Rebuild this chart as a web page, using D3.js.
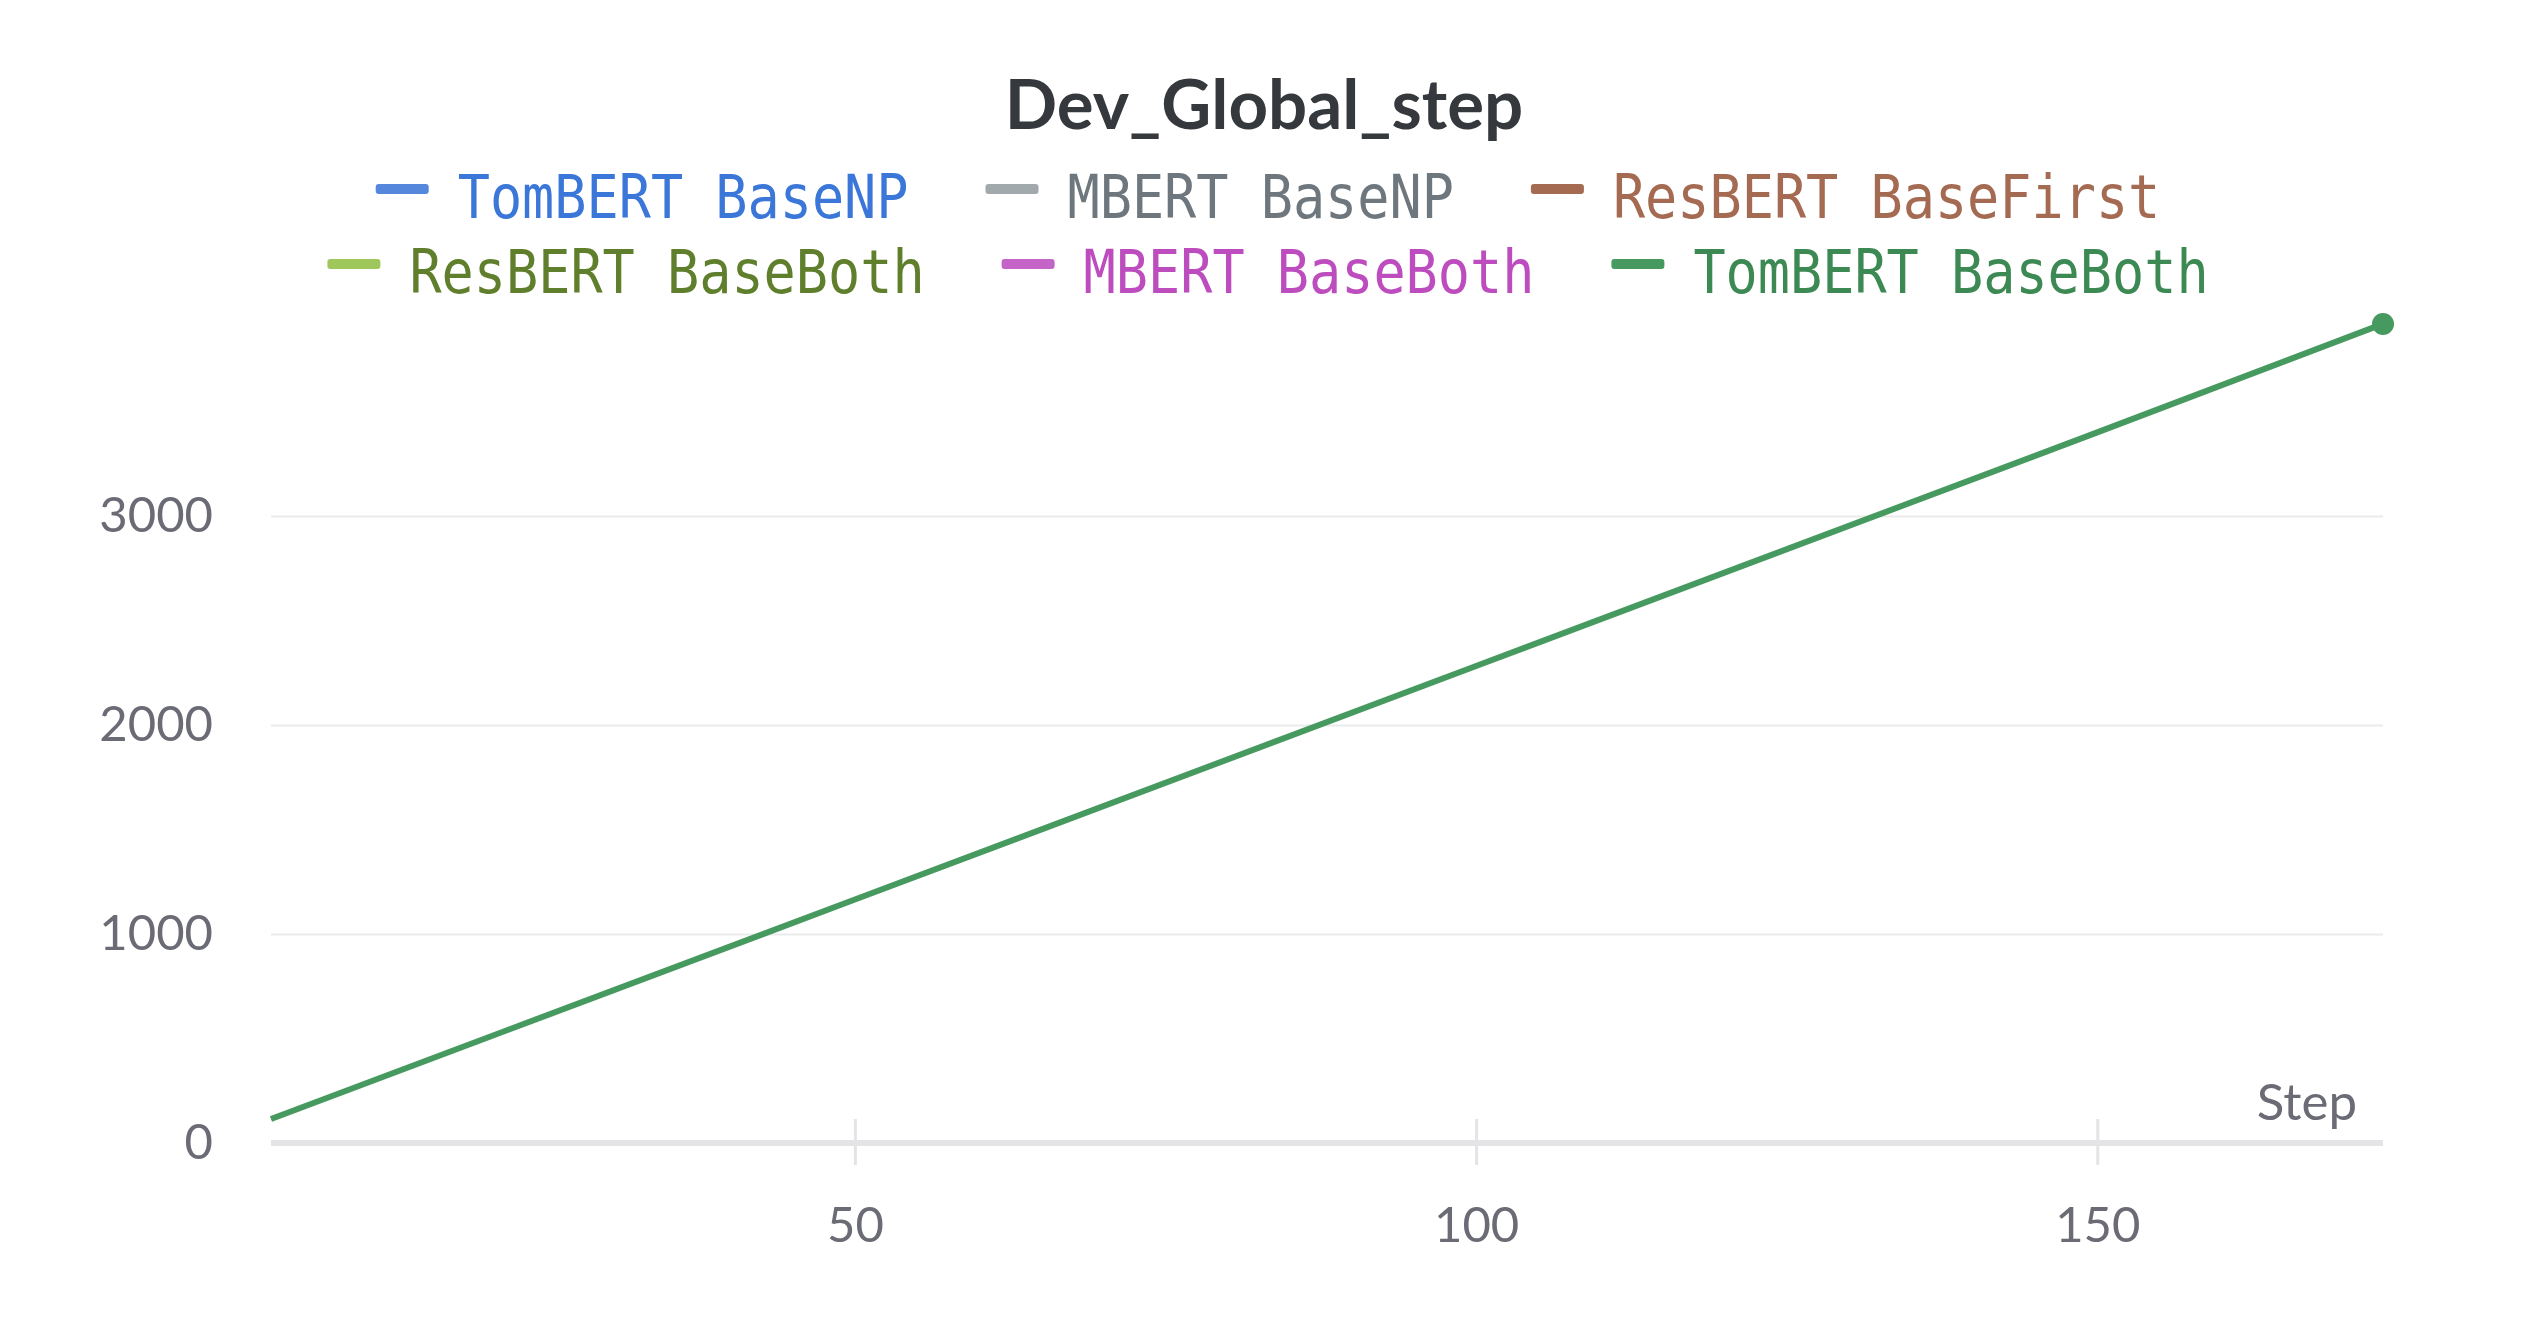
<!DOCTYPE html>
<html>
<head>
<meta charset="utf-8">
<script src="https://cdn.jsdelivr.net/npm/d3@7"></script>
<style>
  html, body { margin: 0; padding: 0; background: #ffffff; }
  svg { display: block; }
</style>
</head>
<body>
<svg id="chart" width="2528" height="1328"></svg>
<script>
// ---- data ----
const title = "Dev_Global_step";
const seriesNames = ["TomBERT BaseNP", "MBERT BaseNP", "ResBERT BaseFirst",
                     "ResBERT BaseBoth", "MBERT BaseBoth", "TomBERT BaseBoth"];
const swatchColors = ["#5588dd", "#a1a9ad", "#a46a52", "#a0c75c", "#c464c6", "#479a5f"];
const textColors   = ["#3b76d9", "#6e777d", "#a46a52", "#607f2c", "#bd4cbf", "#3d8953"];
const steps  = [3, 50, 100, 150, 173];
const values = [115, 1165, 2282, 3400, 3919];
const xTicks = [50, 100, 150];
const yTicks = [0, 1000, 2000, 3000];
const xLabel = "Step";

// ---- layout ----
const svg = d3.select("#chart");
const plot = { left: 271, right: 2383, top: 307, bottom: 1143 };

const x = d3.scaleLinear().domain(d3.extent(steps)).range([plot.left, plot.right]);
const y = d3.scaleLinear().domain([0, 4000]).range([plot.bottom, plot.top]);

const sans = "Lato, 'Open Sans', sans-serif";
const mono = "'DejaVu Sans Mono', monospace";

// title
svg.append("text")
  .attr("x", 1264).attr("y", 129)
  .attr("text-anchor", "middle")
  .attr("font-family", sans).attr("font-weight", 700)
  .attr("font-size", 69).attr("fill", "#35383c")
  .text(title);

// legend
const rows = [[0, 1, 2], [3, 4, 5]];
const charW = 32.2, swW = 53, textOff = 82, gap = 77;
const centerX = 1268;
const baselines = [218, 293];
rows.forEach((row, ri) => {
  const widths = row.map(i => textOff + seriesNames[i].length * charW);
  const total = d3.sum(widths) + gap * (row.length - 1);
  let cx = centerX - total / 2;
  row.forEach((i, k) => {
    const g = svg.append("g");
    g.append("rect")
      .attr("x", cx).attr("width", swW)
      .attr("y", baselines[ri] - 34).attr("height", 10)
      .attr("rx", 3)
      .attr("fill", swatchColors[i]);
    g.append("text")
      .attr("x", cx + textOff).attr("y", baselines[ri])
      .attr("font-family", mono).attr("font-size", 60)
      .attr("fill", textColors[i])
      .attr("textLength", seriesNames[i].length * charW)
      .attr("lengthAdjust", "spacingAndGlyphs")
      .text(seriesNames[i]);
    cx += widths[k] + gap;
  });
});

// y grid + labels
const yAxis = svg.append("g")
  .attr("transform", `translate(${plot.left},0)`)
  .call(d3.axisLeft(y).tickValues(yTicks).tickSize(-(plot.right - plot.left)).tickPadding(58).tickFormat(d3.format("d")));
yAxis.select(".domain").remove();
yAxis.selectAll(".tick line").attr("stroke", "#ebebeb").attr("stroke-width", 2);
yAxis.selectAll(".tick text")
  .attr("font-family", sans).attr("font-size", 49).attr("fill", "#6b6b76");
yAxis.selectAll(".tick").filter(d => d === 0).select("line").remove();

// x axis
const xAxis = svg.append("g")
  .attr("transform", `translate(0,${plot.bottom})`)
  .call(d3.axisBottom(x).tickValues(xTicks).tickSize(22).tickPadding(42).tickFormat(d3.format("d")));
xAxis.select(".domain").remove();
xAxis.selectAll(".tick line").attr("y1", -24).attr("stroke", "#e4e4e6").attr("stroke-width", 3);
xAxis.selectAll(".tick text")
  .attr("font-family", sans).attr("font-size", 49).attr("fill", "#6b6b76");
xAxis.append("line")
  .attr("x1", plot.left).attr("x2", plot.right)
  .attr("y1", 0).attr("y2", 0)
  .attr("stroke", "#e4e4e6").attr("stroke-width", 6);

svg.append("text")
  .attr("x", 2357).attr("y", 1120)
  .attr("text-anchor", "end")
  .attr("font-family", sans).attr("font-size", 51).attr("fill", "#6b6b76")
  .text(xLabel);

// line
const data = steps.map((s, i) => ({ s, v: values[i] }));
svg.append("path")
  .datum(data)
  .attr("fill", "none")
  .attr("stroke", swatchColors[5])
  .attr("stroke-width", 6)
  .attr("d", d3.line().x(d => x(d.s)).y(d => y(d.v)));

const last = data[data.length - 1];
svg.append("circle")
  .attr("cx", x(last.s)).attr("cy", y(last.v)).attr("r", 11)
  .attr("fill", swatchColors[5]);
</script>
</body>
</html>
